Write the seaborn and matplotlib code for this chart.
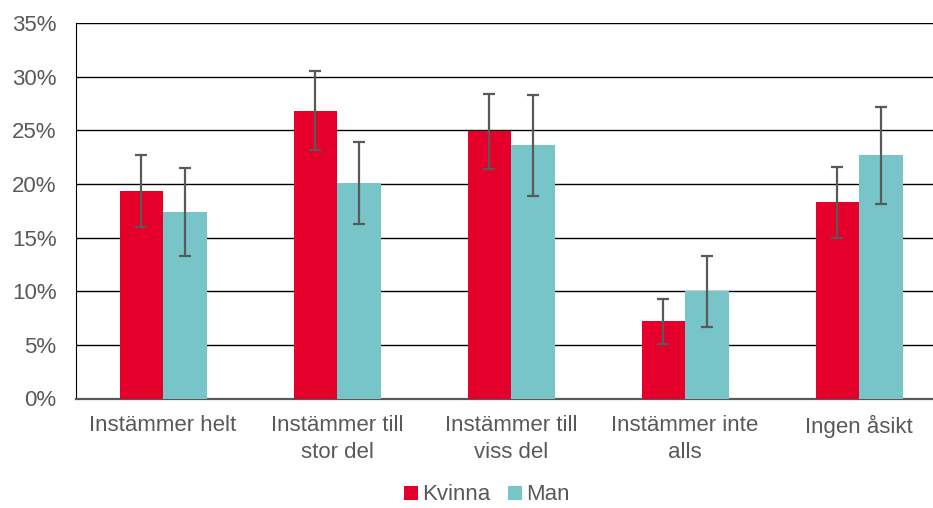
import seaborn as sns
import matplotlib.pyplot as plt
import numpy as np
import pandas as pd

kategorier = ["Instämmer helt", "Instämmer till\nstor del", "Instämmer till\nviss del",
              "Instämmer inte\nalls", "Ingen åsikt"]
kvinna = [19.3, 26.8, 24.9, 7.2, 18.3]
kvinna_low = [16.0, 23.2, 21.4, 5.1, 15.0]
kvinna_high = [22.65, 30.5, 28.4, 9.3, 21.6]
man = [17.4, 20.1, 23.6, 10.0, 22.65]
man_low = [13.3, 16.3, 18.9, 6.7, 18.1]
man_high = [21.5, 23.9, 28.3, 13.3, 27.2]

df = pd.DataFrame({
    "kategori": kategorier * 2,
    "andel": kvinna + man,
    "kön": ["Kvinna"] * 5 + ["Man"] * 5,
})

plt.rcParams['font.family'] = ['Liberation Sans', 'DejaVu Sans']
fig = plt.figure(figsize=(9.33, 5.08), dpi=100)
ax = fig.add_axes([76 / 933, 1 - 398.5 / 508, 870 / 933, 375.5 / 508])

sns.barplot(data=df, x="kategori", y="andel", hue="kön", errorbar=None,
            palette={"Kvinna": "#E4002B", "Man": "#77C5C8"}, width=0.5,
            saturation=1, ax=ax, zorder=3)

# error bars at the bar centres
for cont, val, lo, hi in zip(ax.containers, [kvinna, man], [kvinna_low, man_low], [kvinna_high, man_high]):
    xs = [b.get_x() + b.get_width() / 2 for b in cont]
    val = np.array(val)
    yerr = [val - np.array(lo), np.array(hi) - val]
    ax.errorbar(xs, val, yerr=yerr, fmt="none", ecolor="#595959", elinewidth=1.6,
                capsize=4.5, capthick=1.6, zorder=4)

ax.set_ylim(0, 35)
ax.set_xlim(-0.5, 4.5)
ax.set_yticks(range(0, 36, 5))
ax.set_yticklabels([f"{v}%" for v in range(0, 36, 5)])
ax.yaxis.grid(True, color="black", linewidth=1.0, zorder=0)
ax.set_axisbelow(True)
ax.tick_params(axis="both", length=0, labelsize=16, colors="#595959")
ax.tick_params(axis="y", pad=14)
ax.tick_params(axis="x", pad=12)
for lbl in ax.get_xticklabels():
    lbl.set_linespacing(1.35)
ax.set_xlabel("")
ax.set_ylabel("")
for s in ["top", "right"]:
    ax.spines[s].set_visible(False)
ax.spines["left"].set_color("black")
ax.spines["bottom"].set_color("#595959")
ax.spines["bottom"].set_linewidth(1.6)

ax.legend(loc="center", bbox_to_anchor=(487 / 933, 1 - 495 / 508), bbox_transform=fig.transFigure,
          ncol=2, frameon=False, fontsize=16, handlelength=0.6, handleheight=0.6,
          handletextpad=0.2, columnspacing=0.8, labelcolor="#595959",
          borderpad=0.1)

fig.savefig("out.png", dpi=100)
